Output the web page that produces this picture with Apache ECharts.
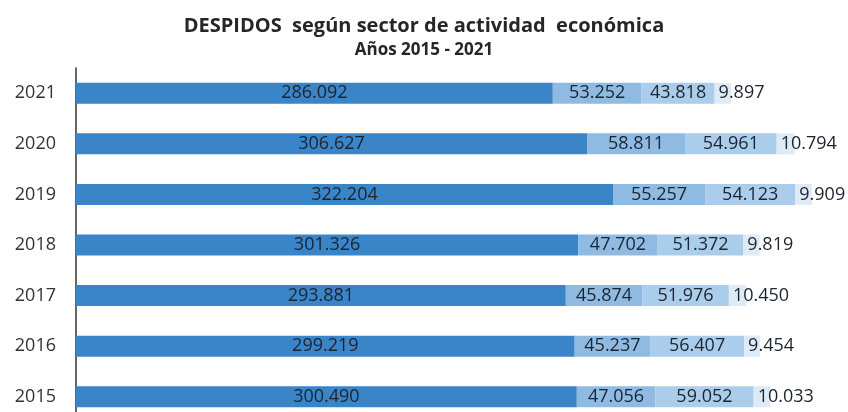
<!DOCTYPE html>
<html>
<head>
<meta charset="utf-8">
<script src="https://cdn.jsdelivr.net/npm/echarts@6/dist/echarts.min.js"></script>
<style>
  html, body { margin: 0; padding: 0; background: #fff; }
  #chart { width: 848px; height: 412px; }
</style>
</head>
<body>
<div id="chart"></div>
<script>
// years, bottom to top
const years = ['2015', '2016', '2017', '2018', '2019', '2020', '2021'];
const servicios = [300490, 299219, 293881, 301326, 322204, 306627, 286092];
const industria = [47056, 45237, 45874, 47702, 55257, 58811, 53252];
const construccion = [59052, 56407, 51976, 51372, 54123, 54961, 43818];
const agricultura = [10033, 9454, 10450, 9819, 9909, 10794, 9897];

// 286092 -> "286.092"
const fmt = v => {
  const s = String(Math.round(v));
  return s.replace(/\B(?=(\d{3})+(?!\d))/g, '.');
};

const labelStyle = {
  show: true,
  fontFamily: 'Open Sans',
  fontSize: 18,
  color: '#1c2430',
  formatter: p => fmt(p.value)
};

const chart = echarts.init(document.getElementById('chart'));
chart.setOption({
  animation: false,
  title: {
    text: 'DESPIDOS  según sector de actividad  económica',
    subtext: 'Años 2015 - 2021',
    left: 'center',
    top: 11,
    itemGap: 6,
    textStyle: { fontFamily: 'Open Sans', fontSize: 20, fontWeight: 'bold', color: '#262626' },
    subtextStyle: { fontFamily: 'Open Sans', fontSize: 17, fontWeight: 'bold', color: '#262626' }
  },
  grid: { left: 76, top: 68, height: 354, width: 750, outerBoundsMode: 'none' },
  xAxis: {
    type: 'value',
    min: 0,
    max: 450000,
    show: false
  },
  yAxis: {
    type: 'category',
    data: years,
    axisLine: { lineStyle: { color: '#333', width: 1.5 } },
    axisTick: { show: false },
    axisLabel: { fontFamily: 'Open Sans', fontSize: 18, color: '#333', margin: 20 }
  },
  series: [
    { name: 'Servicios', type: 'bar', stack: 'total', barWidth: 21, data: servicios,
      itemStyle: { color: '#3a85c8' }, label: { ...labelStyle, position: 'inside' } },
    { name: 'Industria', type: 'bar', stack: 'total', data: industria,
      itemStyle: { color: '#8fbbe3' }, label: { ...labelStyle, position: 'inside' } },
    { name: 'Construcción', type: 'bar', stack: 'total', data: construccion,
      itemStyle: { color: '#abcdec' }, label: { ...labelStyle, position: 'inside' } },
    { name: 'Agricultura', type: 'bar', stack: 'total', data: agricultura,
      itemStyle: { color: '#deebf7' }, label: { ...labelStyle, position: 'insideLeft', distance: 4 } }
  ]
});
</script>
</body>
</html>
